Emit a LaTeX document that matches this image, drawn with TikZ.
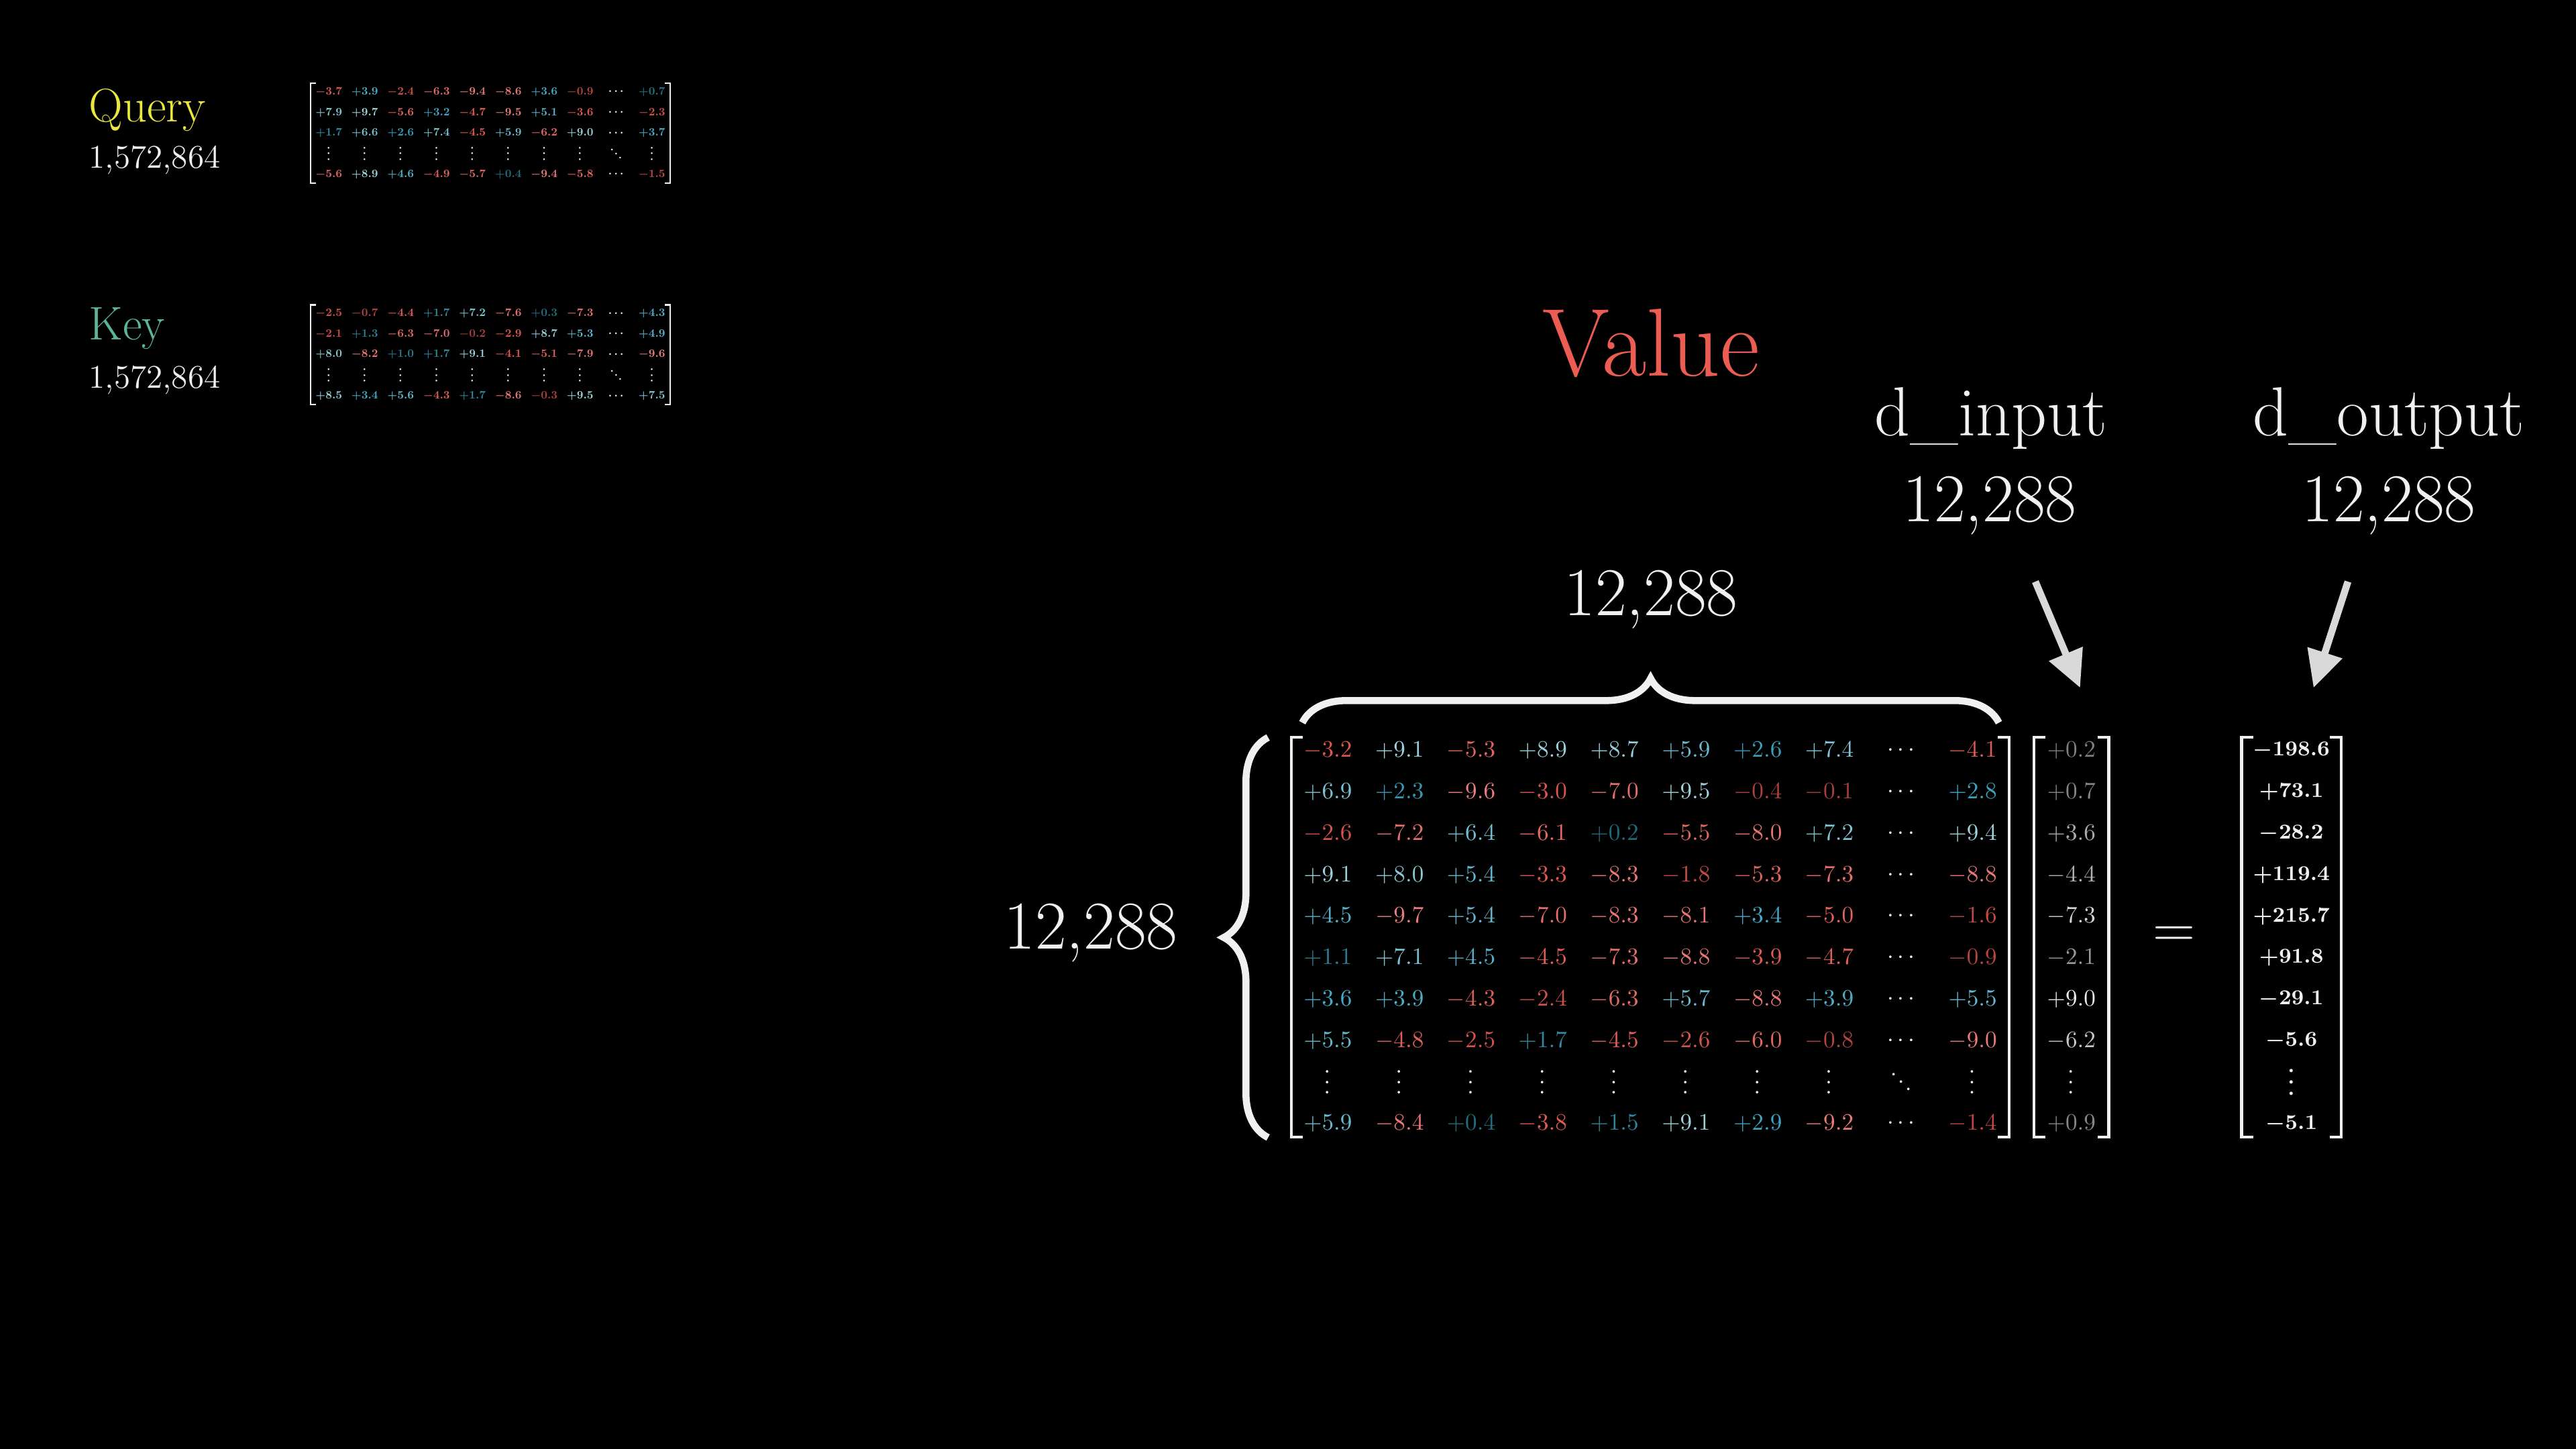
\documentclass[tikz,border=0pt]{standalone}
\usepackage{xcolor}
\usepackage{graphicx}
\usepackage{tikz}
\usetikzlibrary{positioning, arrows.meta, matrix, decorations.pathreplacing}
\definecolor{bg}{HTML}{000000}
\definecolor{ink}{HTML}{F0F0F0}
\definecolor{queryYellow}{HTML}{E8E840}
\definecolor{keyTeal}{HTML}{5CB59B}
\definecolor{valueRed}{HTML}{EB5C53}
\definecolor{arrowGray}{HTML}{D9D9D9}
\definecolor{posLo}{HTML}{1E6676}
\definecolor{posMid}{HTML}{3FA6C4}
\definecolor{posHi}{HTML}{AAD8DF}
\definecolor{negLo}{HTML}{A53F39}
\definecolor{negMid}{HTML}{DC564F}
\definecolor{negHi}{HTML}{EE8080}
\definecolor{grayLo}{HTML}{7F7F7F}
\definecolor{grayHi}{HTML}{F5F5F5}

% coloured entry: red below zero, blue above, brighter with size
\newcommand{\ent}[1]{%
  \pgfmathsetmacro{\entmag}{abs(#1)}%
  \ifdim #1pt<0pt %
    \ifdim \entmag pt<3pt \pgfmathtruncatemacro{\entpct}{\entmag/3*100}\def\entcol{negMid!\entpct!negLo}%
    \else \pgfmathtruncatemacro{\entpct}{(\entmag-3)/7*100}\def\entcol{negHi!\entpct!negMid}\fi
    \textcolor{\entcol}{$#1$}%
  \else
    \ifdim \entmag pt<3pt \pgfmathtruncatemacro{\entpct}{\entmag/3*100}\def\entcol{posMid!\entpct!posLo}%
    \else \pgfmathtruncatemacro{\entpct}{(\entmag-3)/7*100}\def\entcol{posHi!\entpct!posMid}\fi
    \textcolor{\entcol}{$+#1$}%
  \fi}
% shrunk entry and dots for the query / key thumbnails
\newcommand{\sent}[1]{\scalebox{0.48}{\ent{#1}}}
\newcommand{\sdots}{\scalebox{0.48}{$\cdots$}}
% grey entry of the input vector
\newcommand{\gry}[1]{%
  \pgfmathsetmacro{\entmag}{abs(#1)}%
  \pgfmathtruncatemacro{\entpct}{\entmag*10}%
  \ifdim #1pt<0pt \textcolor{grayHi!\entpct!grayLo}{$#1$}%
  \else \textcolor{grayHi!\entpct!grayLo}{$+#1$}\fi}
% square brackets round a matrix: name, inset, tick, style
\newcommand{\matbrackets}[4]{%
  \draw[#4] ([xshift=#3,yshift=-#2]#1.north west) -- ([yshift=-#2]#1.north west) -- ([yshift=#2]#1.south west) -- ([xshift=#3,yshift=#2]#1.south west);
  \draw[#4] ([xshift=-#3,yshift=-#2]#1.north east) -- ([yshift=-#2]#1.north east) -- ([yshift=#2]#1.south east) -- ([xshift=-#3,yshift=#2]#1.south east);}

\begin{document}
\begin{tikzpicture}
  \tikzset{lbl/.style={inner sep=0pt,text=ink}, cellBig/.style={minimum width=10.68mm,minimum height=6.18mm,inner sep=0pt,anchor=center,text=ink,font=\fontsize{10}{12}\selectfont}, cellVec/.style={cellBig,minimum width=11mm}, cellOut/.style={cellBig,minimum width=14.7mm,font=\fontsize{9.5}{11}\selectfont\boldmath}, cellSmall/.style={minimum width=5.35mm,minimum height=3.075mm,inner sep=0pt,anchor=center,text=ink,font=\fontsize{10}{12}\selectfont\boldmath}, dotsV/.style={rotate=90,minimum width=0pt,minimum height=0pt}, dotsD/.style={rotate=-45,minimum width=0pt,minimum height=0pt}, mat/.style={matrix of nodes,inner sep=0pt}, gridBig/.style={row sep={6.18mm,between origins},column sep={10.68mm,between origins}}, gridSmall/.style={row sep={3.075mm,between origins},column sep={5.35mm,between origins}}, brk/.style={draw=ink,line width=1.2pt}, brkSmall/.style={draw=ink,line width=0.6pt}, brace/.style={draw=ink,line width=3pt,decorate,decoration={brace,amplitude=6.6mm}}, arr/.style={draw=arrowGray,line width=3pt,-{Triangle[width=5.2mm,length=5.5mm]}}}
  \fill[bg] (0,0) rectangle (38.4,-21.6);
  \useasboundingbox (0,0) rectangle (38.4,-21.6);

  % query and key, shrunk
  \node[lbl,anchor=west,text=queryYellow,font=\fontsize{20}{24}\selectfont] (qName) at (1.32,-1.64) {Query};
  \node[lbl,anchor=west,font=\fontsize{14}{17}\selectfont] (qSize) at (1.32,-2.39) {1,572,864};
  \node[lbl,anchor=west,text=keyTeal,font=\fontsize{20}{24}\selectfont] (kName) at (1.32,-4.90) {Key};
  \node[lbl,anchor=west,font=\fontsize{14}{17}\selectfont] (kSize) at (1.32,-5.67) {1,572,864};
  \matrix (Q) [mat,gridSmall,nodes={cellSmall}] at (7.31,-1.985) {
    \sent{-3.7} & \sent{3.9} & \sent{-2.4} & \sent{-6.3} & \sent{-9.4} & \sent{-8.6} & \sent{3.6} & \sent{-0.9} & \sdots & \sent{0.7} \\
    \sent{7.9} & \sent{9.7} & \sent{-5.6} & \sent{3.2} & \sent{-4.7} & \sent{-9.5} & \sent{5.1} & \sent{-3.6} & \sdots & \sent{-2.3} \\
    \sent{1.7} & \sent{6.6} & \sent{2.6} & \sent{7.4} & \sent{-4.5} & \sent{5.9} & \sent{-6.2} & \sent{9.0} & \sdots & \sent{3.7} \\
    |[dotsV]| \sdots & |[dotsV]| \sdots & |[dotsV]| \sdots & |[dotsV]| \sdots & |[dotsV]| \sdots & |[dotsV]| \sdots & |[dotsV]| \sdots & |[dotsV]| \sdots & |[dotsD]| \sdots & |[dotsV]| \sdots \\
    \sent{-5.6} & \sent{8.9} & \sent{4.6} & \sent{-4.9} & \sent{-5.7} & \sent{0.4} & \sent{-9.4} & \sent{-5.8} & \sdots & \sent{-1.5} \\
  };
  \matrix (K) [mat,gridSmall,nodes={cellSmall},below=17.5mm of Q] {
    \sent{-2.5} & \sent{-0.7} & \sent{-4.4} & \sent{1.7} & \sent{7.2} & \sent{-7.6} & \sent{0.3} & \sent{-7.3} & \sdots & \sent{4.3} \\
    \sent{-2.1} & \sent{1.3} & \sent{-6.3} & \sent{-7.0} & \sent{-0.2} & \sent{-2.9} & \sent{8.7} & \sent{5.3} & \sdots & \sent{4.9} \\
    \sent{8.0} & \sent{-8.2} & \sent{1.0} & \sent{1.7} & \sent{9.1} & \sent{-4.1} & \sent{-5.1} & \sent{-7.9} & \sdots & \sent{-9.6} \\
    |[dotsV]| \sdots & |[dotsV]| \sdots & |[dotsV]| \sdots & |[dotsV]| \sdots & |[dotsV]| \sdots & |[dotsV]| \sdots & |[dotsV]| \sdots & |[dotsV]| \sdots & |[dotsD]| \sdots & |[dotsV]| \sdots \\
    \sent{8.5} & \sent{3.4} & \sent{5.6} & \sent{-4.3} & \sent{1.7} & \sent{-8.6} & \sent{-0.3} & \sent{9.5} & \sdots & \sent{7.5} \\
  };
  \matbrackets{Q}{0.34mm}{0.8mm}{brkSmall}
  \matbrackets{K}{0.34mm}{0.8mm}{brkSmall}

  % value matrix times input vector
  \matrix (W) [mat,gridBig,nodes={cellBig}] at (24.60,-13.97) {
    \ent{-3.2} & \ent{9.1} & \ent{-5.3} & \ent{8.9} & \ent{8.7} & \ent{5.9} & \ent{2.6} & \ent{7.4} & $\cdots$ & \ent{-4.1} \\
    \ent{6.9} & \ent{2.3} & \ent{-9.6} & \ent{-3.0} & \ent{-7.0} & \ent{9.5} & \ent{-0.4} & \ent{-0.1} & $\cdots$ & \ent{2.8} \\
    \ent{-2.6} & \ent{-7.2} & \ent{6.4} & \ent{-6.1} & \ent{0.2} & \ent{-5.5} & \ent{-8.0} & \ent{7.2} & $\cdots$ & \ent{9.4} \\
    \ent{9.1} & \ent{8.0} & \ent{5.4} & \ent{-3.3} & \ent{-8.3} & \ent{-1.8} & \ent{-5.3} & \ent{-7.3} & $\cdots$ & \ent{-8.8} \\
    \ent{4.5} & \ent{-9.7} & \ent{5.4} & \ent{-7.0} & \ent{-8.3} & \ent{-8.1} & \ent{3.4} & \ent{-5.0} & $\cdots$ & \ent{-1.6} \\
    \ent{1.1} & \ent{7.1} & \ent{4.5} & \ent{-4.5} & \ent{-7.3} & \ent{-8.8} & \ent{-3.9} & \ent{-4.7} & $\cdots$ & \ent{-0.9} \\
    \ent{3.6} & \ent{3.9} & \ent{-4.3} & \ent{-2.4} & \ent{-6.3} & \ent{5.7} & \ent{-8.8} & \ent{3.9} & $\cdots$ & \ent{5.5} \\
    \ent{5.5} & \ent{-4.8} & \ent{-2.5} & \ent{1.7} & \ent{-4.5} & \ent{-2.6} & \ent{-6.0} & \ent{-0.8} & $\cdots$ & \ent{-9.0} \\
    |[dotsV]| $\cdots$ & |[dotsV]| $\cdots$ & |[dotsV]| $\cdots$ & |[dotsV]| $\cdots$ & |[dotsV]| $\cdots$ & |[dotsV]| $\cdots$ & |[dotsV]| $\cdots$ & |[dotsV]| $\cdots$ & |[dotsD]| $\cdots$ & |[dotsV]| $\cdots$ \\
    \ent{5.9} & \ent{-8.4} & \ent{0.4} & \ent{-3.8} & \ent{1.5} & \ent{9.1} & \ent{2.9} & \ent{-9.2} & $\cdots$ & \ent{-1.4} \\
  };
  \matrix (vec) [mat,gridBig,nodes={cellVec},right=3.74mm of W] {
    \gry{0.2} \\ \gry{0.7} \\ \gry{3.6} \\ \gry{-4.4} \\ \gry{-7.3} \\ \gry{-2.1} \\ \gry{9.0} \\ \gry{-6.2} \\ |[dotsV]| $\cdots$ \\ \gry{0.9} \\
  };
  \node[lbl,font=\fontsize{24}{28}\selectfont,right=6.5mm of vec] (eq) {$=$};
  \matrix (out) [mat,gridBig,nodes={cellOut},right=19.8mm of vec] {
    $-198.6$ \\ $+73.1$ \\ $-28.2$ \\ $+119.4$ \\ $+215.7$ \\ $+91.8$ \\ $-29.1$ \\ $-5.6$ \\ |[dotsV]| $\cdots$ \\ $-5.1$ \\
  };
  \matbrackets{W}{1.14mm}{1.7mm}{brk}
  \matbrackets{vec}{1.14mm}{1.7mm}{brk}
  \matbrackets{out}{1.14mm}{1.7mm}{brk}

  % sizes and labels
  \draw[brace] ([xshift=-3.5mm,yshift=1.1mm]W.south west) -- ([xshift=-3.5mm,yshift=-1.2mm]W.north west);
  \draw[brace] ([xshift=1.6mm,yshift=1mm]W.north west) -- ([xshift=-1.5mm,yshift=1mm]W.north east);
  \node[lbl,font=\fontsize{29}{34}\selectfont] (rowSize) at (16.26,-13.91) {12,288};
  \node[lbl,font=\fontsize{29}{34}\selectfont] (colSize) at (24.61,-8.94) {12,288};
  \node[lbl,text=valueRed,font=\fontsize{41}{46}\selectfont] (valName) at (24.61,-5.12) {Value};
  \node[lbl,font=\fontsize{29.5}{34}\selectfont] (dIn) at (29.68,-6.24) {d\_input};
  \node[lbl,font=\fontsize{29}{34}\selectfont] (dInSize) at (29.66,-7.54) {12,288};
  \node[lbl,font=\fontsize{29.5}{34}\selectfont] (dOut) at (35.61,-6.24) {d\_output};
  \node[lbl,font=\fontsize{29}{34}\selectfont] (dOutSize) at (35.61,-7.54) {12,288};
  \coordinate (dInTail) at (30.34,-8.67);
  \coordinate (dOutTail) at (35.00,-8.67);
  \draw[arr] (dInTail) -- ([xshift=1.3mm,yshift=6.2mm]vec.north);
  \draw[arr] (dOutTail) -- ([xshift=3.3mm,yshift=6.2mm]out.north);
\end{tikzpicture}
\end{document}
